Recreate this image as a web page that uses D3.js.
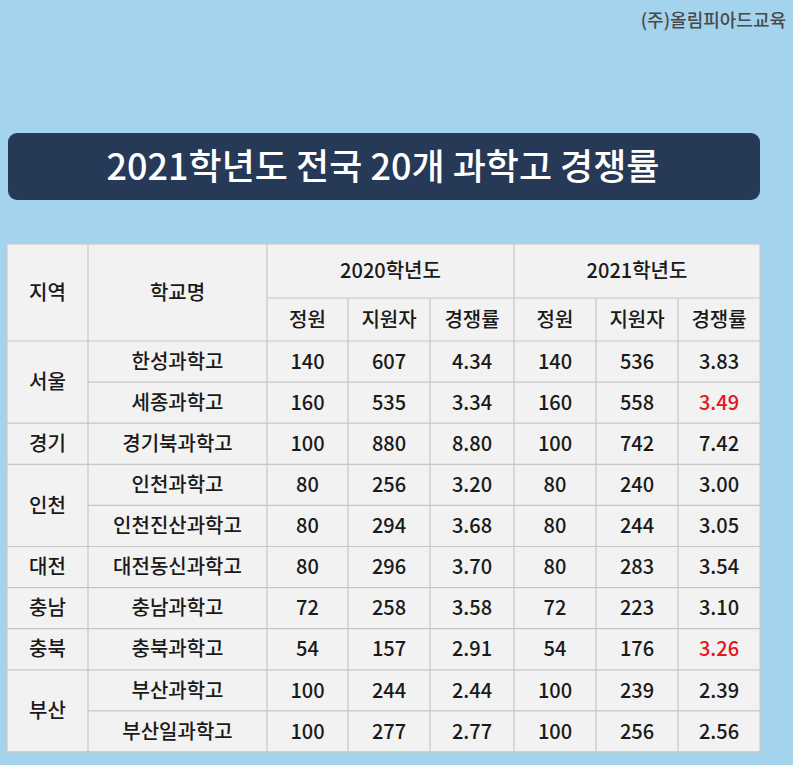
<!DOCTYPE html><html><head><meta charset="utf-8">
<script src="https://cdn.jsdelivr.net/npm/d3@7"></script>
<style>body{margin:0;background:#A4D3EE;overflow:hidden}svg{display:block;font-family:"Noto Sans CJK KR","Noto Sans",sans-serif}</style></head><body>
<script>
const regions=[["서울",2],["경기",1],["인천",2],["대전",1],["충남",1],["충북",1],["부산",2]];
const schools=["한성과학고","세종과학고","경기북과학고","인천과학고","인천진산과학고","대전동신과학고","충남과학고","충북과학고","부산과학고","부산일과학고"];
const quota2020=[140,160,100,80,80,80,72,54,100,100];
const applicants2020=[607,535,880,256,294,296,258,157,244,277];
const rate2020=["4.34","3.34","8.80","3.20","3.68","3.70","3.58","2.91","2.44","2.77"];
const quota2021=[140,160,100,80,80,80,72,54,100,100];
const applicants2021=[536,558,742,240,244,283,223,176,239,256];
const rate2021=["3.83","3.49","7.42","3.00","3.05","3.54","3.10","3.26","2.39","2.56"];
const up2021=[false,true,false,false,false,false,false,true,false,false];
const years=["2020학년도","2021학년도"];
const subHeads=["정원","지원자","경쟁률"];

const W=793,H=765;
const svg=d3.select("body").append("svg").attr("width",W).attr("height",H);
svg.append("text").attr("x",786).attr("y",27).attr("text-anchor","end").attr("font-size",18).attr("font-weight",500).attr("fill","#4a4a4a").text("(주)올림피아드교육");
svg.append("rect").attr("x",8).attr("y",133).attr("width",752).attr("height",67).attr("rx",9).attr("fill","#263A58");
svg.append("text").attr("x",383).attr("y",167).attr("dy","0.36em").attr("text-anchor","middle").attr("font-size",36).attr("font-weight",500).attr("fill","#fff").text("2021학년도 전국 20개 과학고 경쟁률");

const colX=[7,88,267,348,430,514,596,678,760];
const y0=244,h1=54,h2=43,rh=41.1;
const rowY=i=>y0+h1+h2+i*rh;
const g=svg.append("g");
const tableBottom=rowY(schools.length);
g.append("rect").attr("x",colX[0]).attr("y",y0).attr("width",colX[8]-colX[0]).attr("height",tableBottom-y0).attr("fill","#F2F2F2").attr("stroke","#C6C6C6");
const line=(x1,y1,x2,y2)=>g.append("line").attr("x1",x1).attr("y1",y1).attr("x2",x2).attr("y2",y2).attr("stroke","#C6C6C6").attr("stroke-width",1.2);
const txt=(x,y,s,c)=>g.append("text").attr("x",x).attr("y",y).attr("dy","0.36em").attr("text-anchor","middle").attr("font-size",20).attr("font-weight",500).attr("fill",c||"#1a1a1a").text(s);
line(colX[2],y0+h1,colX[8],y0+h1);
line(colX[0],y0+h1+h2,colX[8],y0+h1+h2);
[1,2,5].forEach(i=>line(colX[i],y0,colX[i],tableBottom));
[3,4,6,7].forEach(i=>line(colX[i],y0+h1,colX[i],tableBottom));
txt((colX[0]+colX[1])/2,y0+(h1+h2)/2,"지역");
txt((colX[1]+colX[2])/2,y0+(h1+h2)/2,"학교명");
years.forEach((yv,k)=>txt((colX[2+3*k]+colX[5+3*k])/2,y0+h1/2,yv));
for(let k=0;k<2;k++)subHeads.forEach((s,j)=>txt((colX[2+3*k+j]+colX[3+3*k+j])/2,y0+h1+h2/2,s));
let r=0;
regions.forEach(([name,n])=>{
  txt((colX[0]+colX[1])/2,rowY(r)+n*rh/2,name);
  for(let i=1;i<n;i++)line(colX[1],rowY(r+i),colX[8],rowY(r+i));
  r+=n;
  line(colX[0],rowY(r),colX[8],rowY(r));
});
schools.forEach((s,i)=>{
  const cy=rowY(i)+rh/2;
  const vals=[s,quota2020[i],applicants2020[i],rate2020[i],quota2021[i],applicants2021[i],rate2021[i]];
  vals.forEach((v,j)=>txt((colX[1+j]+colX[2+j])/2,cy,v,(j==6&&up2021[i])?"#E8141B":null));
});
</script></body></html>
